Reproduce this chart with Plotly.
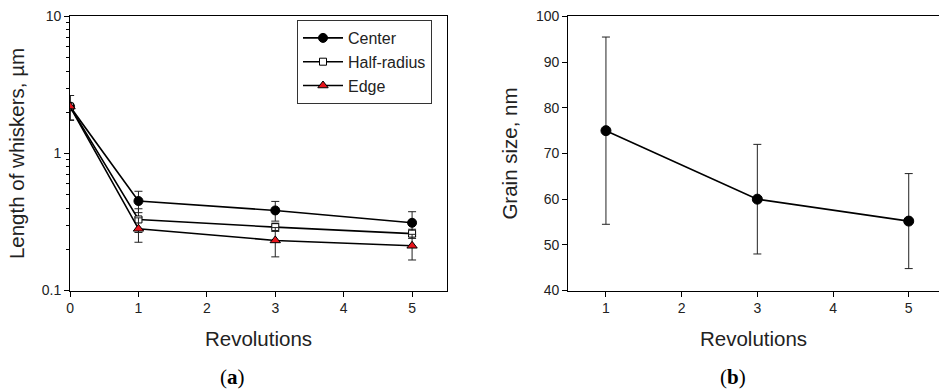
import plotly.graph_objects as go

# Panel (a) data
rev_a = [0, 1, 3, 5]
center = [2.2, 0.45, 0.384, 0.312]
center_err = [0.45, 0.08, 0.063, 0.064]
half = [2.2, 0.33, 0.29, 0.26]
half_err = [0.45, 0.065, 0.02, 0.02]
edge = [2.2, 0.282, 0.232, 0.212]
edge_err = [0.45, 0.057, 0.056, 0.045]

# Panel (b) data
rev_b = [1, 3, 5]
grain = [75.0, 60.0, 55.2]
grain_err = [20.5, 12.0, 10.4]

# tick labels
ytick_a = [0.1, 1, 10]
ytick_a_text = ["0.1", "1", "10"]
yminor_a = [0.2, 0.3, 0.4, 0.5, 0.6, 0.7, 0.8, 0.9, 2, 3, 4, 5, 6, 7, 8, 9]

FONT = "Liberation Sans, Arial, sans-serif"
fig = go.Figure()

def add_series(x, y, err, name, symbol, fill, size, showlegend=True, xa="x", ya="y"):
    fig.add_trace(go.Scatter(
        x=x, y=y, name=name, mode="lines+markers",
        line=dict(color="black", width=1.6),
        marker=dict(symbol=symbol, size=size, color=fill, line=dict(color="black", width=1)),
        error_y=dict(type="data", array=err, visible=True, color="#222", thickness=1, width=4),
        showlegend=showlegend, xaxis=xa, yaxis=ya,
    ))

add_series(rev_a, center, center_err, "Center", "circle", "black", 9)
add_series(rev_a, half, half_err, "Half-radius", "square", "white", 7)
add_series(rev_a, edge, edge_err, "Edge", "triangle-up", "#e8141c", 9)
add_series(rev_b, grain, grain_err, "Grain", "circle", "black", 10, showlegend=False, xa="x2", ya="y2")

ydom = [0.2532, 0.9576]
TITLE_FONT = dict(family=FONT, size=20.5, color="#222")
axis_common = dict(showline=True, linecolor="black", linewidth=1, ticks="outside", ticklen=5,
                   tickcolor="black", showgrid=False, zeroline=False, automargin=False,
                   tickfont=dict(family=FONT, size=14, color="#222"))

fig.update_layout(
    width=939, height=389, margin=dict(l=0, r=0, t=0, b=0),
    paper_bgcolor="white", plot_bgcolor="white",
    font=dict(family=FONT, color="#222"),
    showlegend=True,
    legend=dict(x=297 / 939, y=(389 - 20) / 389, xanchor="left", yanchor="top",
                bordercolor="#333", borderwidth=1, bgcolor="white",
                font=dict(family=FONT, size=16, color="#222"),
                tracegroupgap=0, itemwidth=40),
    xaxis=dict(domain=[0.0746, 0.476], range=[0, 5.51], tickvals=[0, 1, 2, 3, 4, 5],
               mirror=True, anchor="y",
               title=dict(text="Revolutions", font=TITLE_FONT, standoff=16),
               **axis_common),
    yaxis=dict(domain=ydom, type="log", range=[-1, 1], tickvals=ytick_a, ticktext=ytick_a_text,
               mirror=True, anchor="x",
               minor=dict(tickmode="array", tickvals=yminor_a, ticks="outside", ticklen=3, tickcolor="black"),
               title=dict(text="Length of whiskers, µm", font=TITLE_FONT, standoff=11),
               **axis_common),
    xaxis2=dict(domain=[0.605, 1.0], range=[0.5, 5.4], tickvals=[1, 2, 3, 4, 5],
                mirror=True, anchor="y2",
                title=dict(text="Revolutions", font=TITLE_FONT, standoff=16),
                **axis_common),
    yaxis2=dict(domain=ydom, range=[40, 100], dtick=10, anchor="x2",
                title=dict(text="Grain size, nm", font=TITLE_FONT, standoff=12),
                **axis_common),
)

ann_y = (389 - 377) / 389
SERIF = dict(family="Liberation Serif, Times New Roman, serif", size=21, color="black")
fig.add_annotation(text="(<b>a</b>)", x=232.5 / 939, y=ann_y, xref="paper", yref="paper",
                   xanchor="center", yanchor="middle", showarrow=False, font=SERIF)
fig.add_annotation(text="(<b>b</b>)", x=732.5 / 939, y=ann_y, xref="paper", yref="paper",
                   xanchor="center", yanchor="middle", showarrow=False, font=SERIF)

fig.write_html("out.html", config={"displayModeBar": False},
               post_script="document.body.style.margin='0';document.body.style.overflow='hidden';")
